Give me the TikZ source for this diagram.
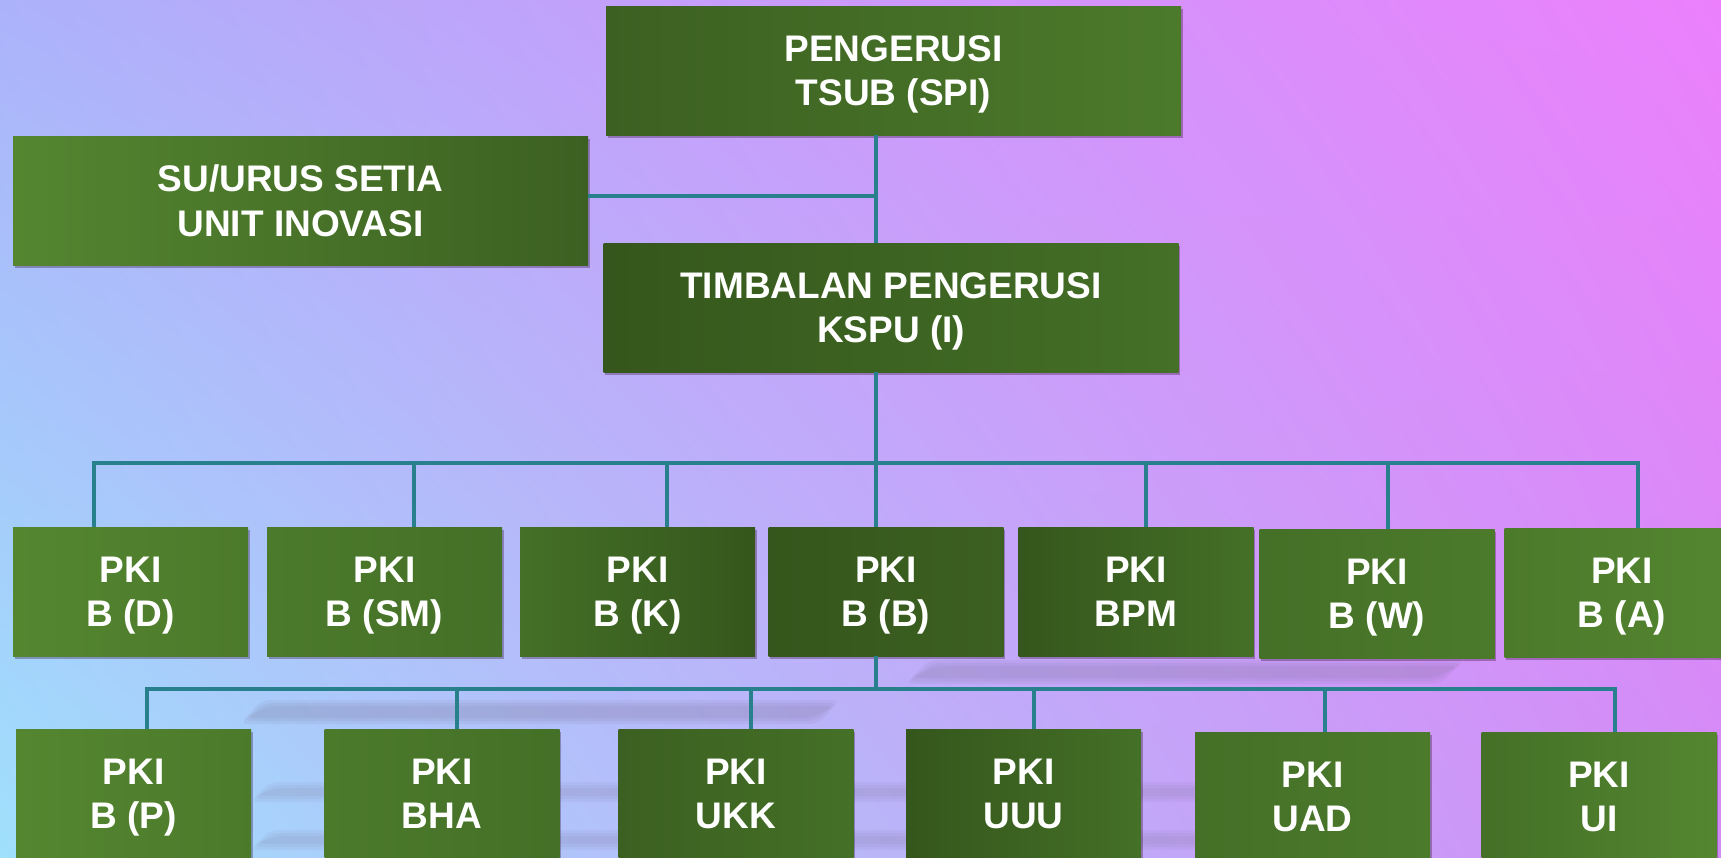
\documentclass[tikz,border=0pt]{standalone}
\usepackage{fontspec}
\setmainfont{Liberation Sans}
\usetikzlibrary{shadows,shadings}
\definecolor{bgtl}{RGB}{172,178,250}
\definecolor{bgtr}{RGB}{236,128,252}
\definecolor{bgbl}{RGB}{160,224,252}
\definecolor{bgbr}{RGB}{210,140,246}
\definecolor{gA}{RGB}{84,134,48}
\definecolor{gB}{RGB}{76,122,43}
\definecolor{gC}{RGB}{68,112,39}
\definecolor{gD}{RGB}{60,96,33}
\definecolor{gE}{RGB}{53,86,28}
\definecolor{conn}{RGB}{40,128,140}
\definecolor{band}{RGB}{120,110,150}
\begin{document}
\begin{tikzpicture}[x=1pt,y=-1pt,
  box/.style={rectangle, inner sep=0pt, minimum width=235pt, minimum height=129pt,
    text=white, font=\bfseries\fontsize{37}{44.4}\selectfont, align=center, text depth=0pt,
    drop shadow={shadow xshift=1.5pt, shadow yshift=-3pt, opacity=0.3, fill=black!70!violet}},
  widebox/.style={box, minimum width=575pt},
  link/.style={draw=conn, line width=3.5pt}]
\useasboundingbox (0,0) rectangle (1721,857);
\clip (0,0) rectangle (1721,857);
\shade[upper left=bgtl, upper right=bgtr, lower left=bgbl, lower right=bgbr] (0,0) rectangle (1721,857);
% faint reflection bands
\foreach \o in {0,3,6}{
  \fill[band, opacity=0.10, rounded corners=8pt] (262+\o,700+\o) -- (840-\o,700+\o) -- (818-\o,724-\o) -- (240+\o,724-\o) -- cycle;
  \fill[band, opacity=0.10, rounded corners=8pt] (930+\o,660+\o) -- (1465-\o,660+\o) -- (1440-\o,684-\o) -- (905+\o,684-\o) -- cycle;
  \fill[band, opacity=0.08, rounded corners=8pt] (270+\o,782+\o) -- (1300-\o,782+\o) -- (1280-\o,802-\o) -- (250+\o,802-\o) -- cycle;
  \fill[band, opacity=0.08, rounded corners=8pt] (270+\o,830+\o) -- (1300-\o,830+\o) -- (1280-\o,850-\o) -- (250+\o,850-\o) -- cycle;
}
% top level
\node[widebox, left color=gD, right color=gB] (peng) at (893.5,70.5) {PENGERUSI\\TSUB (SPI)};
\node[widebox, left color=gA, right color=gD] (su) at (300.5,200.5) {SU/URUS SETIA\\UNIT INOVASI};
\node[widebox, left color=gE, right color=gC] (timb) at (891,307.5) {TIMBALAN PENGERUSI\\KSPU (I)};
% row 1
\node[box, left color=gA, right color=gB] (bd) at (130.5,591.5) {PKI\\B (D)};
\node[box, left color=gB, right color=gC] (bsm) at (384.5,591.5) {PKI\\B (SM)};
\node[box, left color=gC, right color=gE] (bk) at (637.5,591.5) {PKI\\B (K)};
\node[box, left color=gE, right color=gD] (bb) at (886,591.5) {PKI\\B (B)};
\node[box, left color=gE, right color=gC] (bpm) at (1136,591.5) {PKI\\BPM};
\node[box, left color=gC, right color=gB] (bw) at (1377,593.5) {PKI\\B (W)};
\node[box, left color=gB, right color=gA] (ba) at (1622,592.5) {PKI\\B (A)};
% row 2
\node[box, left color=gA, right color=gB] (bp) at (133.5,793.5) {PKI\\B (P)};
\node[box, left color=gB, right color=gC] (bha) at (442,793.5) {PKI\\BHA};
\node[box, left color=gD, right color=gC] (ukk) at (736,793.5) {PKI\\UKK};
\node[box, left color=gE, right color=gC] (uuu) at (1023.5,793.5) {PKI\\UUU};
\node[box, left color=gC, right color=gB] (uad) at (1312.5,796.5) {PKI\\UAD};
\node[box, left color=gC, right color=gA] (ui) at (1599,796.5) {PKI\\UI};
% connector coordinates
\coordinate (tx) at (876,0);
\coordinate (aL) at (94,463);
\coordinate (aR) at (1638,463);
\coordinate (a2) at (414,463);
\coordinate (a3) at (667,463);
\coordinate (a5) at (1146,463);
\coordinate (a6) at (1388,463);
\coordinate (busB) at (876,689);
\coordinate (bL) at (147,689);
\coordinate (bR) at (1615,689);
\coordinate (b2) at (457,689);
\coordinate (b3) at (751,689);
\coordinate (b4) at (1034,689);
\coordinate (b5) at (1325,689);
% connectors
\draw[link] (tx |- peng.south) -- (tx |- timb.north);
\draw[link] ([yshift=4.5pt]su.east) -- ([yshift=4.5pt]su.east -| tx);
\draw[link] (tx |- timb.south) -- (tx |- bb.north);
\draw[link, line cap=rect] (aL) -- (aR);
\draw[link] (aL) -- (aL |- bd.north);
\draw[link] (a2) -- (a2 |- bsm.north);
\draw[link] (a3) -- (a3 |- bk.north);
\draw[link] (a5) -- (a5 |- bpm.north);
\draw[link] (a6) -- (a6 |- bw.north);
\draw[link] (aR) -- (aR |- ba.north);
\draw[link] (tx |- bb.south) -- (busB);
\draw[link, line cap=rect] (bL) -- (bR);
\draw[link] (bL) -- (bL |- bp.north);
\draw[link] (b2) -- (b2 |- bha.north);
\draw[link] (b3) -- (b3 |- ukk.north);
\draw[link] (b4) -- (b4 |- uuu.north);
\draw[link] (b5) -- (b5 |- uad.north);
\draw[link] (bR) -- (bR |- ui.north);
\end{tikzpicture}
\end{document}
